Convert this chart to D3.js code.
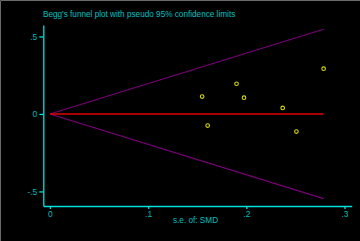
<!DOCTYPE html>
<html>
<head>
<meta charset="utf-8">
<script src="https://cdn.jsdelivr.net/npm/d3@7"></script>
<style>
  body { margin: 0; background: #000; }
  text { font-family: "Liberation Sans", Arial, sans-serif; }
</style>
</head>
<body>
<div id="chart"></div>
<script>
// study points: standard error and SMD
let se  = [0.155, 0.1606, 0.190, 0.1976, 0.237, 0.251, 0.2787];
let smd = [0.112, -0.075, 0.195, 0.105, 0.039, -0.114, 0.292];
let pooled = 0;
let xTicks = [0, 0.1, 0.2, 0.3];
let yTicks = [-0.5, 0, 0.5];

const width = 360, height = 241;

let x = d3.scaleLinear().domain([-0.0068, 0.3073]).range([43.3, 351.7]);
let y = d3.scaleLinear().domain([-0.594, 0.574]).range([206, 25]);

let svg = d3.select("#chart").append("svg")
    .attr("width", width)
    .attr("height", height)
    .style("display", "block");

svg.append("rect").attr("width", width).attr("height", height).attr("fill", "#000");
// thin grey border top and left
svg.append("path").attr("d", `M0.5,${height} V0.5 H${width}`)
    .attr("stroke", "#6a6a6a").attr("fill", "none");

let fmt = d => d === 0 ? "0" : String(d).replace("0.", ".");

let maxSe = d3.max(se);

// funnel limits
let upper = d3.line().x(d => x(d)).y(d => y(pooled + 1.96 * d));
let lower = d3.line().x(d => x(d)).y(d => y(pooled - 1.96 * d));

svg.append("path").datum([0, maxSe]).attr("d", upper)
    .attr("stroke", "#7c007c").attr("stroke-width", 1.1).attr("fill", "none");
svg.append("path").datum([0, maxSe]).attr("d", lower)
    .attr("stroke", "#7c007c").attr("stroke-width", 1.1).attr("fill", "none");

// pooled estimate
svg.append("line")
    .attr("x1", x(0)).attr("x2", x(maxSe))
    .attr("y1", y(pooled)).attr("y2", y(pooled))
    .attr("stroke", "#e00000").attr("stroke-width", 1.5);

// axes
let yAxis = d3.axisLeft(y).tickValues(yTicks).tickFormat(fmt).tickSize(4).tickSizeOuter(0).tickPadding(2);
let xAxis = d3.axisBottom(x).tickValues(xTicks).tickFormat(fmt).tickSize(3).tickSizeOuter(0).tickPadding(2);

let gy = svg.append("g").attr("transform", `translate(${x.range()[0]},0)`).call(yAxis);
let gx = svg.append("g").attr("transform", `translate(0,${y.range()[0]})`).call(xAxis);

[gy, gx].forEach(g => {
  g.select(".domain").attr("stroke", "#00e0e0").attr("stroke-width", 1.3);
  g.selectAll(".tick line").attr("stroke", "#00e0e0").attr("stroke-width", 1.3);
  g.selectAll(".tick text").attr("fill", "#00b8b8").style("font-size", "8.5px")
    .style("font-family", "'Liberation Sans', Arial, sans-serif");
});

// points
svg.append("g").selectAll("circle")
  .data(se.map((d, i) => [d, smd[i]]))
  .enter().append("circle")
    .attr("cx", d => x(d[0]))
    .attr("cy", d => y(d[1]))
    .attr("r", 1.8)
    .attr("fill", "none")
    .attr("stroke", "#d8d800")
    .attr("stroke-width", 1.1);

// titles
svg.append("text")
    .attr("x", 43).attr("y", 17)
    .attr("fill", "#00c0c0")
    .style("font-size", "8.2px")
    .text("Begg's funnel plot with pseudo 95% confidence limits");

svg.append("text")
    .attr("x", 173).attr("y", 223)
    .attr("fill", "#00c0c0")
    .style("font-size", "8.2px")
    .text("s.e. of: SMD");
</script>
</body>
</html>
